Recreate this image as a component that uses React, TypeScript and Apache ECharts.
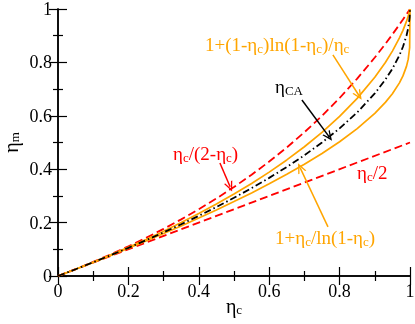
import React, { useEffect, useRef } from "react";
import * as echarts from "echarts";

// η_c sample positions
const etaC = [0, 0.05, 0.1, 0.15, 0.2, 0.25, 0.3, 0.35, 0.4, 0.45, 0.5, 0.55, 0.6, 0.65, 0.7, 0.75, 0.8, 0.85, 0.9, 0.93, 0.95, 0.97, 0.98, 0.99, 0.995, 0.999, 1];
// ηc/(2-ηc)
const upperBound = [0, 0.02564, 0.05263, 0.08108, 0.11111, 0.14286, 0.17647, 0.21212, 0.25, 0.29032, 0.33333, 0.37931, 0.42857, 0.48148, 0.53846, 0.6, 0.66667, 0.73913, 0.81818, 0.86916, 0.90476, 0.94175, 0.96078, 0.9802, 0.99005, 0.998, 1];
// 1+(1-ηc)ln(1-ηc)/ηc
const upperOrange = [0, 0.02543, 0.05175, 0.07906, 0.10743, 0.13695, 0.16776, 0.19997, 0.23376, 0.26931, 0.30685, 0.34668, 0.38914, 0.43471, 0.48401, 0.5379, 0.59764, 0.66521, 0.74416, 0.79984, 0.84233, 0.89155, 0.92016, 0.95348, 0.97338, 0.99309, 1];
// ηCA
const curzonAhlborn = [0, 0.02532, 0.05132, 0.07805, 0.10557, 0.13397, 0.16334, 0.19377, 0.2254, 0.25838, 0.29289, 0.32918, 0.36754, 0.40839, 0.45228, 0.5, 0.55279, 0.6127, 0.68377, 0.73542, 0.77639, 0.82679, 0.85858, 0.9, 0.92929, 0.96838, 1];
// 1+ηc/ln(1-ηc)
const lowerOrange = [0, 0.02521, 0.05088, 0.07703, 0.10372, 0.13099, 0.1589, 0.18752, 0.21696, 0.24729, 0.27865, 0.31122, 0.34519, 0.38085, 0.41859, 0.45899, 0.50293, 0.55195, 0.60914, 0.65028, 0.68288, 0.72337, 0.74949, 0.78502, 0.8122, 0.85538, 1];
// ηc/2
const halfX = [0, 1];
const halfY = [0, 0.5];

const tickValues = [0, 0.2, 0.4, 0.6, 0.8, 1];

// annotation arrows [from, to] in data coordinates
const arrowUpperOrange = [[0.781, 0.828], [0.855, 0.676]];
const arrowCA = [[0.693, 0.659], [0.77, 0.522]];
const arrowUpperBound = [[0.46, 0.423], [0.489, 0.334]];
const arrowLowerOrange = [[0.767, 0.184], [0.688, 0.405]];

const FONT = "'Liberation Serif', 'Times New Roman', serif";
const RED = "#ff0000";
const ORANGE = "#ffa500";
const CHEVRON = "path://M0,10 L5,0 L10,10 L8.4,10 L5,3.2 L1.6,10 Z";

function pairs(xs: number[], ys: number[]) {
  return xs.map((x, i) => [x, ys[i]]);
}

function arrowLine(a: number[][], color: string) {
  return {
    silent: true,
    symbol: ["none", CHEVRON],
    symbolSize: [9, 10],
    label: { show: false },
    lineStyle: { color, type: "solid", width: 1.5 },
    itemStyle: { color },
    data: [[{ coord: a[0] }, { coord: a[1] }]],
  };
}

function richFor(color: string, size = 19, sub = 13) {
  return {
    m: { fontSize: size, fontFamily: FONT, fill: color },
    s: { fontSize: sub, fontFamily: FONT, fill: color, padding: [9, 0, 0, 0] },
  };
}

function label(text: string, x: number, y: number, color: string) {
  return {
    type: "text",
    x,
    y,
    silent: true,
    style: {
      text,
      fill: color,
      fontSize: 19,
      fontFamily: FONT,
      verticalAlign: "middle",
      align: "left",
      rich: richFor(color),
    },
  };
}

export default function App() {
  const ref = useRef<HTMLDivElement>(null);
  useEffect(() => {
    const chart = echarts.init(ref.current!, null, { renderer: "svg" });
    const axisCommon = {
      type: "value",
      min: 0,
      max: 1,
      interval: 0.2,
      axisLine: { show: true, lineStyle: { color: "#000", width: 1.5 } },
      axisTick: { show: true, inside: true, length: 9, lineStyle: { color: "#000", width: 1.2 } },
      minorTick: { show: true, splitNumber: 2, length: 5, lineStyle: { color: "#000", width: 1.2 } },
      splitLine: { show: false },
      minorSplitLine: { show: false },
    };
    const labelStyle = { color: "#000", fontSize: 18, fontFamily: FONT, margin: 6 };
    const nameRich = {
      m: { fontSize: 20, fontFamily: FONT, color: "#000" },
      s: { fontSize: 13, fontFamily: FONT, color: "#000", padding: [8, 0, 0, 0] },
    };
    const yNameRich = {
      m: { fontSize: 20, fontFamily: FONT, color: "#000" },
      s: { fontSize: 13, fontFamily: FONT, color: "#000", padding: [6, 0, 0, 0] },
    };
    chart.setOption({
      animation: false,
      grid: { left: 58, right: 5, top: 9, bottom: 48, containLabel: false, outerBoundsMode: "none" },
      xAxis: [
        {
          ...axisCommon,
          position: "bottom",
          axisLabel: { ...labelStyle, formatter: (v: number) => (tickValues.includes(v) ? String(v) : "") },
          name: "{m|η}{s|c}",
          nameLocation: "middle",
          nameGap: 19,
          nameMoveOverlap: false,
          nameTextStyle: { rich: nameRich },
        },
        { ...axisCommon, position: "top", axisLabel: { show: false } },
      ],
      yAxis: [
        {
          ...axisCommon,
          position: "left",
          axisLabel: { ...labelStyle },
          name: "{m|η}{s|m}",
          nameLocation: "middle",
          nameRotate: 90,
          nameGap: 37,
          nameMoveOverlap: false,
          nameTextStyle: { rich: yNameRich },
        },
        { ...axisCommon, position: "right", axisLabel: { show: false } },
      ],
      series: [
        {
          type: "line",
          data: pairs(halfX, halfY),
          showSymbol: false,
          lineStyle: { color: RED, width: 1.8, type: [8, 4] },
        },
        {
          type: "line",
          data: pairs(etaC, upperBound),
          showSymbol: false,
          lineStyle: { color: RED, width: 1.8, type: [8, 4] },
          markLine: arrowLine(arrowUpperBound, RED),
        },
        {
          type: "line",
          data: pairs(etaC, lowerOrange),
          showSymbol: false,
          lineStyle: { color: ORANGE, width: 1.7 },
          markLine: arrowLine(arrowLowerOrange, ORANGE),
        },
        {
          type: "line",
          data: pairs(etaC, upperOrange),
          showSymbol: false,
          lineStyle: { color: ORANGE, width: 1.7 },
          markLine: arrowLine(arrowUpperOrange, ORANGE),
        },
        {
          type: "line",
          data: pairs(etaC, curzonAhlborn),
          showSymbol: false,
          lineStyle: { color: "#000", width: 1.8, type: [7, 3, 1.5, 3] },
          markLine: arrowLine(arrowCA, "#000"),
        },
      ],
      graphic: [
        label("{m|1+(1-η}{s|c}{m|)ln(1-η}{s|c}{m|)/η}{s|c}", 205, 44, ORANGE),
        label("{m|η}{s|CA}", 275, 86, "#000"),
        label("{m|η}{s|c}{m|/(2-η}{s|c}{m|)}", 173, 153, RED),
        label("{m|η}{s|c}{m|/2}", 357, 172, RED),
        label("{m|1+η}{s|c}{m|/ln(1-η}{s|c}{m|)}", 275, 237, ORANGE),
      ],
    });
    return () => chart.dispose();
  }, []);
  return <div ref={ref} style={{ position: "fixed", left: 0, top: 0, width: 415, height: 324 }} />;
}
